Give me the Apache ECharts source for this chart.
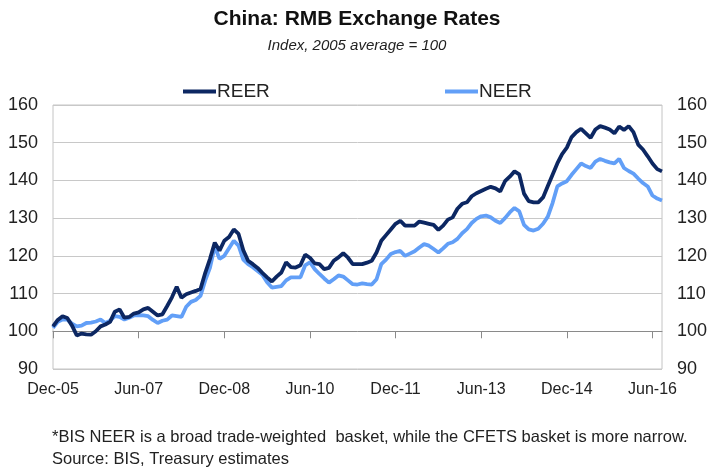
<!DOCTYPE html>
<html>
<head>
<meta charset="utf-8">
<script src="https://cdn.jsdelivr.net/npm/echarts@6/dist/echarts.min.js"></script>
<style>
  html, body { margin: 0; padding: 0; background: #fff; }
  #chart { width: 714px; height: 475px; }
</style>
</head>
<body>
<div id="chart"></div>
<script>
// Monthly index, Dec-05 .. Aug-16 (2005 average = 100)
const reer = [
  101.3, 103.0, 104.0, 103.5, 101.5, 98.9, 99.4, 99.2, 99.1, 100.0,
  101.3, 101.8, 102.5, 105.2, 105.8, 103.6, 103.8, 104.7, 105.0, 105.8,
  106.2, 105.2, 104.2, 104.5, 106.7, 109.0, 111.8, 108.9, 109.8, 110.3,
  110.7, 111.2, 115.5, 119.2, 123.5, 121.4, 124.0, 125.0, 127.0, 125.8,
  121.5, 118.7, 117.8, 116.8, 115.5, 114.3, 113.2, 114.5, 115.6, 118.3,
  117.0, 116.9, 117.5, 120.3, 119.5, 118.0, 117.8, 116.5, 116.8, 118.7,
  119.6, 120.7, 119.5, 117.8, 117.8, 117.8, 118.2, 118.7, 120.9, 124.0,
  125.5, 127.0, 128.5, 129.3, 128.0, 128.0, 128.0, 129.1, 128.8, 128.5,
  128.2, 126.9, 128.0, 129.6, 130.2, 132.5, 133.8, 134.2, 135.8, 136.6,
  137.2, 137.8, 138.3, 137.9, 137.1, 139.8, 141.0, 142.4, 141.6, 136.5,
  134.5, 134.2, 134.2, 135.5, 138.5, 141.5, 144.5, 147.0, 148.7, 151.5,
  152.8, 153.7, 152.5, 151.3, 153.5, 154.4, 154.0, 153.5, 152.5, 154.3,
  153.4, 154.4, 152.8, 149.5, 148.2, 146.4, 144.5, 143.0, 142.4
];
const neer = [
  100.9, 102.5, 103.1, 103.1, 102.0, 101.3, 101.5, 102.2, 102.3, 102.6,
  103.1, 102.2, 102.8, 104.0, 103.8, 103.1, 103.6, 104.2, 104.3, 104.2,
  104.0, 103.0, 102.2, 102.8, 103.1, 104.2, 104.0, 103.8, 106.5, 107.8,
  108.3, 109.4, 113.5, 116.9, 122.5, 119.2, 120.0, 122.0, 124.0, 122.7,
  119.0, 117.8, 117.0, 116.0, 115.0, 113.0, 111.6, 111.8, 112.0, 113.5,
  114.3, 114.3, 114.3, 117.5, 118.3, 116.5, 115.2, 114.0, 112.9, 113.8,
  114.8, 114.5, 113.5, 112.5, 112.4, 112.7, 112.5, 112.4, 113.8, 117.8,
  119.0, 120.5, 121.0, 121.3, 120.0, 120.6, 121.2, 122.2, 123.1, 122.7,
  121.8, 120.9, 122.0, 123.2, 123.6, 124.5, 126.0, 127.1, 128.7, 129.8,
  130.5, 130.7, 130.2, 129.3, 128.7, 130.0, 131.5, 132.7, 131.8, 128.2,
  127.0, 126.7, 127.2, 128.5, 130.4, 134.0, 138.4, 139.2, 139.8, 141.5,
  143.0, 144.5, 143.8, 143.3, 145.0, 145.7, 145.2, 144.8, 144.5, 145.7,
  143.3, 142.5, 141.8, 140.5, 139.3, 138.4, 136.0, 135.2, 134.7
];
const monthNames = ['Jan', 'Feb', 'Mar', 'Apr', 'May', 'Jun', 'Jul', 'Aug', 'Sep', 'Oct', 'Nov', 'Dec'];
const yTicks = [90, 100, 110, 120, 130, 140, 150, 160];

// month labels, starting Dec-05
const months = [];
for (let i = 0; i < reer.length; i++) {
  const m = (11 + i) % 12;
  const y = 5 + Math.floor((11 + i) / 12);
  months.push(monthNames[m] + '-' + String(y).padStart(2, '0'));
}

const font = '"Liberation Sans", Arial, sans-serif';
const dark = '#0c2762';
const light = '#629ff7';

const gridTop = 105;
const gridBottom = 106;
const plotH = 475 - gridTop - gridBottom;
const yMin = yTicks[0];
const yMax = yTicks[yTicks.length - 1];
// pixel offset that puts the tick axis on the 100 line
const axisOffset = -plotH * (100 - yMin) / (yMax - yMin);

const chart = echarts.init(document.getElementById('chart'));

const yAxisBase = {
  type: 'value',
  min: yMin,
  max: yMax,
  interval: 10,
  axisLine: { show: false },
  axisTick: { show: false },
  axisLabel: { color: '#222', fontSize: 18, fontFamily: font, margin: 15 },
};

const legendBase = {
  top: 77,
  icon: 'rect',
  itemWidth: 33,
  itemHeight: 4,
  itemGap: 0,
  textStyle: { color: '#222', fontSize: 19, fontFamily: font, padding: [0, 0, 0, -4] },
};

chart.setOption({
  animation: false,
  title: {
    text: 'China: RMB Exchange Rates',
    subtext: 'Index, 2005 average = 100',
    left: 'center',
    top: 4,
    itemGap: 8,
    textStyle: { color: '#111', fontSize: 21, fontWeight: 'bold', fontFamily: font },
    subtextStyle: { color: '#222', fontSize: 15, fontStyle: 'italic', fontFamily: font },
  },
  legend: [
    Object.assign({ data: ['REER'], left: 178 }, legendBase),
    Object.assign({ data: ['NEER'], left: 440 }, legendBase),
  ],
  grid: {
    left: 53,
    right: 52,
    top: gridTop,
    bottom: gridBottom,
    show: true,
    borderColor: '#c4c4c4',
    borderWidth: 1,
  },
  xAxis: [
    {
      type: 'category',
      data: months,
      boundaryGap: false,
      axisLine: { show: false },
      axisTick: { show: false },
      axisLabel: { interval: 17, color: '#222', fontSize: 16, fontFamily: font, margin: 13 },
    },
    {
      type: 'category',
      data: months,
      boundaryGap: false,
      position: 'bottom',
      offset: axisOffset,
      axisLine: { show: true, lineStyle: { color: '#8a8a8a', width: 1 } },
      axisTick: { show: true, interval: 17, length: 7, lineStyle: { color: '#8a8a8a' } },
      axisLabel: { show: false },
      splitLine: { show: false },
    },
  ],
  yAxis: [
    Object.assign({}, yAxisBase, {
      position: 'left',
      splitLine: { show: true, lineStyle: { color: '#c8c8c8', width: 1 } },
    }),
    Object.assign({}, yAxisBase, {
      position: 'right',
      splitLine: { show: false },
    }),
  ],
  series: [
    {
      name: 'REER',
      type: 'line',
      data: reer,
      showSymbol: false,
      color: dark,
      lineStyle: { width: 3.8, color: dark },
      z: 3,
    },
    {
      name: 'NEER',
      type: 'line',
      data: neer,
      showSymbol: false,
      color: light,
      lineStyle: { width: 3.8, color: light },
      z: 2,
    },
  ],
  graphic: [
    {
      type: 'text',
      left: 52,
      top: 429,
      style: {
        text: '*BIS NEER is a broad trade-weighted  basket, while the CFETS basket is more narrow.',
        fill: '#222',
        font: '16.5px ' + font,
      },
    },
    {
      type: 'text',
      left: 52,
      top: 451,
      style: {
        text: 'Source: BIS, Treasury estimates',
        fill: '#222',
        font: '16.5px ' + font,
      },
    },
  ],
});
</script>
</body>
</html>
